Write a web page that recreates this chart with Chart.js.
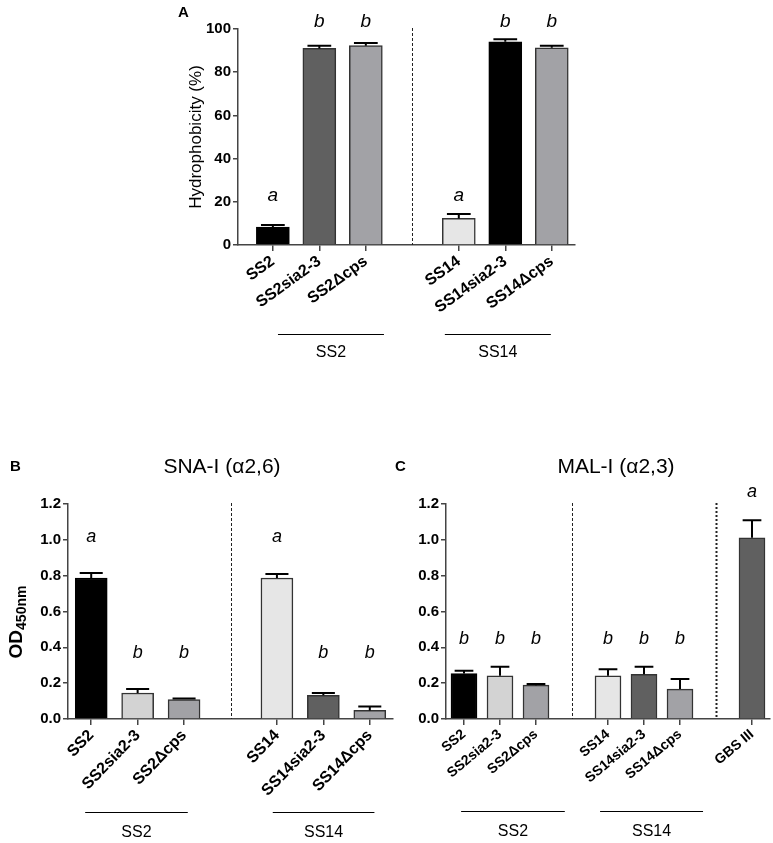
<!DOCTYPE html>
<html>
<head>
<meta charset="utf-8">
<script src="https://cdn.jsdelivr.net/npm/chart.js@4.4.1/dist/chart.umd.min.js"></script>
<style>
  body { margin: 0; background: #fff; }
  #wrap { position: relative; width: 773px; height: 843px; }
  canvas { position: absolute; }
</style>
</head>
<body>
<div id="wrap">
  <canvas id="chartA" width="440" height="380" style="left:150px;top:0px"></canvas>
  <canvas id="chartB" width="400" height="403" style="left:0px;top:440px"></canvas>
  <canvas id="chartC" width="383" height="403" style="left:390px;top:440px"></canvas>
</div>
<script>
// ---- data ----
// empty label = gap slot between strain groups
const labelsA = ['SS2', 'SS2sia2-3', 'SS2Δcps', '', 'SS14', 'SS14sia2-3', 'SS14Δcps'];
const valuesA = [8.3, 91.0, 92.3, null, 12.3, 94.1, 91.3];
const errorsA = [1.0, 1.2, 1.2, null, 2.0, 1.1, 0.9];
const lettersA = ['a', 'b', 'b', '', 'a', 'b', 'b'];

const labelsB = ['SS2', 'SS2sia2-3', 'SS2Δcps', '', 'SS14', 'SS14sia2-3', 'SS14Δcps'];
const valuesB = [0.787, 0.145, 0.109, null, 0.787, 0.132, 0.048];
const errorsB = [0.028, 0.022, 0.006, null, 0.022, 0.013, 0.022];
const lettersB = ['a', 'b', 'b', '', 'a', 'b', 'b'];

const labelsC = ['SS2', 'SS2sia2-3', 'SS2Δcps', '', 'SS14', 'SS14sia2-3', 'SS14Δcps', '', 'GBS III'];
const valuesC = [0.254, 0.241, 0.189, null, 0.241, 0.250, 0.167, null, 1.011];
const errorsC = [0.015, 0.050, 0.006, null, 0.037, 0.041, 0.056, null, 0.098];
const lettersC = ['b', 'b', 'b', '', 'b', 'b', 'b', '', 'a'];

const ticksPct = [0, 20, 40, 60, 80, 100];
const ticksOD = [0, 0.2, 0.4, 0.6, 0.8, 1.0, 1.2];

// bar fills
const colorsA = ['#000000', '#606060', '#a2a2a6', null, '#e6e6e6', '#000000', '#a2a2a6'];
const colorsB = ['#000000', '#d3d3d3', '#a2a2a6', null, '#e6e6e6', '#606060', '#a2a2a6'];
const colorsC = ['#000000', '#d3d3d3', '#a2a2a6', null, '#e6e6e6', '#606060', '#a2a2a6', null, '#606060'];

const FONT = "'Liberation Sans', Arial, sans-serif";

// error bars, significance letters, separators, group brackets, titles
const decor = {
    id: 'decor',
    afterDatasetsDraw(chart, args, o) {
        const ctx = chart.ctx;
        const area = chart.chartArea;
        const x = chart.scales.x, y = chart.scales.y;
        const bars = chart.getDatasetMeta(0).data;
        const pts = chart.data.datasets[0].data;
        ctx.save();

        // separators
        (o.separators || []).forEach(s => {
            const px = Math.round(x.getPixelForValue(s.at)) + 0.5;
            ctx.beginPath();
            ctx.setLineDash(s.dash);
            ctx.lineWidth = s.width;
            ctx.strokeStyle = '#222';
            ctx.moveTo(px, area.top - 1);
            ctx.lineTo(px, area.bottom);
            ctx.stroke();
        });
        ctx.setLineDash([]);

        // error bars (upper only)
        ctx.strokeStyle = '#000';
        ctx.lineWidth = 2;
        bars.forEach((b, i) => {
            const idx = pts[i].x;
            const top = y.getPixelForValue(pts[i].y + o.errors[idx]);
            const base = y.getPixelForValue(pts[i].y);
            const half = b.width * 0.36;
            ctx.beginPath();
            ctx.moveTo(b.x, base);
            ctx.lineTo(b.x, top);
            ctx.moveTo(b.x - half, top);
            ctx.lineTo(b.x + half, top);
            ctx.stroke();
        });

        // letters: one row per letter, above the highest error bar of that letter
        const rowTop = {};
        pts.forEach(p => {
            const l = o.letters[p.x];
            const t = p.y + o.errors[p.x];
            if (rowTop[l] === undefined || t > rowTop[l]) rowTop[l] = t;
        });
        ctx.fillStyle = '#000';
        ctx.font = 'italic ' + o.letterSize + 'px ' + FONT;
        ctx.textAlign = 'center';
        ctx.textBaseline = 'middle';
        bars.forEach((b, i) => {
            const l = o.letters[pts[i].x];
            ctx.fillText(l, b.x, y.getPixelForValue(rowTop[l]) - o.letterGap);
        });

        // group brackets
        ctx.lineWidth = 1;
        ctx.font = '16px ' + FONT;
        (o.groups || []).forEach(g => {
            const x0 = x.getPixelForValue(g.from), x1 = x.getPixelForValue(g.to);
            ctx.beginPath();
            ctx.moveTo(x0, o.groupLineY + 0.5);
            ctx.lineTo(x1, o.groupLineY + 0.5);
            ctx.stroke();
            ctx.fillText(g.text, (x0 + x1) / 2, o.groupTextY);
        });

        // panel letter
        ctx.font = 'bold 15px ' + FONT;
        ctx.textAlign = 'left';
        ctx.fillText(o.panel.text, o.panel.x, o.panel.y);

        // title
        if (o.title) {
            ctx.font = '21px ' + FONT;
            ctx.textAlign = 'center';
            ctx.fillText(o.title.text, o.title.x, o.title.y);
        }

        // y title (optionally with subscript)
        if (o.yTitle) {
            const t = o.yTitle;
            ctx.translate(t.x, t.y);
            ctx.rotate(-Math.PI / 2);
            ctx.textBaseline = 'alphabetic';
            ctx.font = t.font;
            const w1 = ctx.measureText(t.text).width;
            let w2 = 0;
            if (t.sub) {
                ctx.font = t.subFont;
                w2 = ctx.measureText(t.sub).width;
            }
            ctx.textAlign = 'left';
            ctx.font = t.font;
            ctx.fillText(t.text, -(w1 + w2) / 2, 0);
            if (t.sub) {
                ctx.font = t.subFont;
                ctx.fillText(t.sub, -(w1 + w2) / 2 + w1, 4);
            }
        }
        ctx.restore();
    }
};

function buildChart(id, p) {
    const pts = [], bg = [], border = [];
    p.values.forEach((v, i) => {
        if (v !== null) {
            pts.push({ x: i, y: v });
            bg.push(p.colors[i]);
            border.push(p.colors[i] === '#000000' ? '#000' : '#333');
        }
    });
    const tickPos = pts.map(d => d.x);
    const axisGrid = { drawOnChartArea: false, drawTicks: true, tickLength: 5, color: '#444', lineWidth: 1.5, offset: false };
    const axisBorder = { display: true, color: '#444', width: 1.5 };

    return new Chart(document.getElementById(id), {
        type: 'bar',
        data: {
            datasets: [{
                data: pts,
                backgroundColor: bg,
                borderColor: border,
                borderWidth: 1.5,
                barThickness: p.barWidth
            }]
        },
        options: {
            responsive: false,
            animation: false,
            layout: { padding: p.padding },
            plugins: {
                legend: { display: false },
                tooltip: { enabled: false },
                decor: p.decor
            },
            scales: {
                x: {
                    type: 'linear',
                    offset: false,
                    min: p.xMin,
                    max: p.values.length - 0.5,
                    afterBuildTicks: s => { s.ticks = tickPos.map(v => ({ value: v })); },
                    // keep the plot area fixed: no extra room for rotated labels
                    afterFit: s => { s.height = p.xHeight; s.paddingLeft = 0; s.paddingRight = 0; },
                    ticks: {
                        autoSkip: false,
                        minRotation: p.rot,
                        maxRotation: p.rot,
                        padding: 1,
                        color: '#000',
                        font: { family: FONT, size: p.xFont, weight: 'bold' },
                        callback: v => p.labels[v]
                    },
                    grid: Object.assign({}, axisGrid, { tickLength: 6 }),
                    border: axisBorder
                },
                y: {
                    min: 0,
                    max: p.yTicks[p.yTicks.length - 1],
                    afterBuildTicks: s => { s.ticks = p.yTicks.map(v => ({ value: v })); },
                    afterFit: s => { s.width = p.yWidth; s.paddingTop = 0; s.paddingBottom = 0; },
                    ticks: {
                        padding: 2,
                        color: '#000',
                        font: { family: FONT, size: 15, weight: 'bold' },
                        callback: p.yFormat
                    },
                    grid: axisGrid,
                    border: axisBorder
                }
            }
        },
        plugins: [decor]
    });
}

// ----------------- A: hydrophobicity -----------------
buildChart('chartA', {
    labels: labelsA, values: valuesA, colors: colorsA,
    yTicks: ticksPct, yFormat: v => String(v),
    xMin: -0.75, rot: 36, xFont: 16, barWidth: 33,
    padding: { top: 29, right: 15, bottom: 0, left: 0 },
    yWidth: 88, xHeight: 135,
    decor: {
        errors: errorsA, letters: lettersA, letterSize: 19, letterGap: 18,
        separators: [{ at: 3, dash: [3, 2], width: 1 }],
        groups: [{ text: 'SS2', from: 0.11, to: 2.39 }, { text: 'SS14', from: 3.7, to: 5.98 }],
        groupLineY: 334, groupTextY: 353,
        panel: { text: 'A', x: 28, y: 13 },
        yTitle: { text: 'Hydrophobicity (%)', x: 51, y: 137, font: '17px ' + FONT }
    }
});

// ----------------- B: SNA-I -----------------
buildChart('chartB', {
    labels: labelsB, values: valuesB, colors: colorsB,
    yTicks: ticksOD, yFormat: v => v.toFixed(1),
    xMin: -0.5, rot: 46, xFont: 16, barWidth: 32,
    padding: { top: 64, right: 7, bottom: 0, left: 0 },
    yWidth: 68, xHeight: 124,
    decor: {
        errors: errorsB, letters: lettersB, letterSize: 18, letterGap: 36,
        separators: [{ at: 3, dash: [3, 2], width: 1 }],
        groups: [{ text: 'SS2', from: -0.13, to: 2.08 }, { text: 'SS14', from: 3.91, to: 6.1 }],
        groupLineY: 372, groupTextY: 393,
        panel: { text: 'B', x: 10, y: 27 },
        title: { text: 'SNA-I (α2,6)', x: 222, y: 27 },
        yTitle: { text: 'OD', sub: '450nm', x: 22, y: 182, font: 'bold 19px ' + FONT, subFont: 'bold 14px ' + FONT }
    }
});

// ----------------- C: MAL-I -----------------
buildChart('chartC', {
    labels: labelsC, values: valuesC, colors: colorsC,
    yTicks: ticksOD, yFormat: v => v.toFixed(1),
    xMin: -0.5, rot: 40, xFont: 14, barWidth: 26,
    padding: { top: 64, right: 3, bottom: 0, left: 0 },
    yWidth: 56, xHeight: 124,
    decor: {
        errors: errorsC, letters: lettersC, letterSize: 18, letterGap: 28,
        separators: [{ at: 3, dash: [3, 2], width: 1 }, { at: 7, dash: [2, 2], width: 2 }],
        groups: [{ text: 'SS2', from: -0.08, to: 2.8 }, { text: 'SS14', from: 3.78, to: 6.64 }],
        groupLineY: 371, groupTextY: 392,
        panel: { text: 'C', x: 5, y: 27 },
        title: { text: 'MAL-I (α2,3)', x: 226, y: 27 }
    }
});
</script>
</body>
</html>
